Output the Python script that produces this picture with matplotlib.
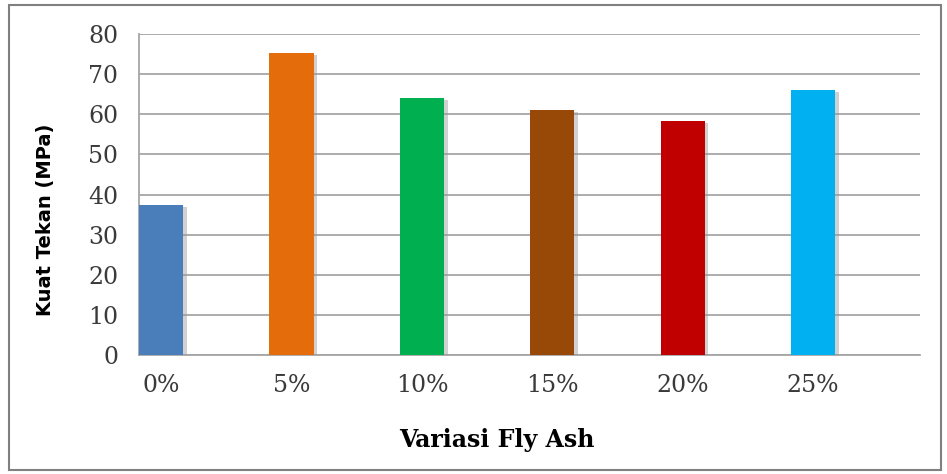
import matplotlib
matplotlib.use("Agg")
import matplotlib.pyplot as plt
import matplotlib.patheffects as pe
from matplotlib.patches import Rectangle

categories = ["0%", "5%", "10%", "15%", "20%", "25%"]
values = [37.5, 75.3, 64.2, 61.1, 58.4, 66.1]
colors = ["#4a7ebb", "#e46c0a", "#00b050", "#984807", "#c00000", "#00b0f0"]
yticks = [0, 10, 20, 30, 40, 50, 60, 70, 80]

fig = plt.figure(figsize=(9.47, 4.74), dpi=100)
ax = fig.add_axes([0.1468, 0.251, 0.8247, 0.677])

x = list(range(len(categories)))
bars = ax.bar(x, values, width=0.34, color=colors, zorder=3)
for b in bars:
    b.set_path_effects([pe.SimplePatchShadow(offset=(2.5, -1.5), shadow_rgbFace="#999999", alpha=0.45), pe.Normal()])

ax.set_xlim(-0.17, 5.82)
ax.set_ylim(0, 80)
ax.set_yticks(yticks)
ax.set_xticks(x)
ax.set_xticklabels(categories, family="DejaVu Serif", fontsize=17, color="#3a3a3a")
ax.set_yticklabels([str(v) for v in yticks], family="DejaVu Serif", fontsize=17, color="#3a3a3a")
ax.tick_params(axis="both", length=0)
ax.tick_params(axis="x", pad=14)
ax.tick_params(axis="y", pad=15)

ax.grid(axis="y", color="#a6a6a6", linewidth=1.3, zorder=0)
for s in ["top", "right"]:
    ax.spines[s].set_visible(False)
ax.spines["left"].set_color("#a6a6a6")
ax.spines["bottom"].set_color("#a6a6a6")
ax.spines["left"].set_linewidth(1.3)
ax.spines["bottom"].set_linewidth(1.3)

ax.set_ylabel("Kuat Tekan (MPa)", family="DejaVu Sans", fontweight="bold", fontsize=14)
ax.yaxis.set_label_coords(-0.1075, 0.42)
ax.set_xlabel("Variasi Fly Ash", family="DejaVu Serif", fontweight="bold", fontsize=17)
ax.xaxis.set_label_coords(0.458, -0.228)

fig.patches.append(Rectangle((0.009, 0.008), 0.985, 0.982, transform=fig.transFigure,
                             fill=False, edgecolor="#808080", linewidth=1.5))

fig.savefig("out.png", dpi=100)
